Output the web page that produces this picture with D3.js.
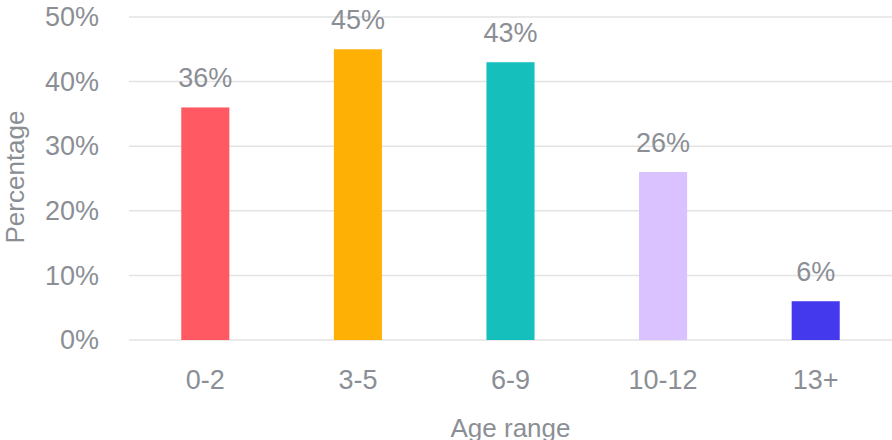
<!DOCTYPE html>
<html>
<head>
<meta charset="utf-8">
<script src="https://cdn.jsdelivr.net/npm/d3@7"></script>
<style>
  body { margin: 0; background: #fff; }
  text { font-family: "Liberation Sans", Arial, sans-serif; fill: #8b8f95; }
</style>
</head>
<body>
<div id="chart"></div>
<script>
var categories = ["0-2", "3-5", "6-9", "10-12", "13+"];
var values = [36, 45, 43, 26, 6];
var colors = ["#ff5a64", "#ffb005", "#15bfbb", "#d9c2ff", "#4539ee"];
var yTicks = [0, 10, 20, 30, 40, 50];

var width = 892, height = 440;
var margin = {top: 17, right: 0, bottom: 100, left: 129};
var fontSize = "27px";

var svg = d3.select("#chart").append("svg")
    .attr("width", width)
    .attr("height", height);

var x = d3.scaleBand()
    .domain(categories)
    .range([margin.left, width - margin.right])
    .paddingInner(0.685)
    .paddingOuter(0.3425);

var y = d3.scaleLinear()
    .domain([0, 50])
    .range([340, margin.top]);

// gridlines
svg.append("g")
    .selectAll("line")
    .data(yTicks)
    .enter().append("line")
    .attr("x1", margin.left)
    .attr("x2", width)
    .attr("y1", function(d) { return y(d); })
    .attr("y2", function(d) { return y(d); })
    .style("stroke", "#e3e3e3")
    .style("stroke-width", 1.5);

// y axis labels
var yAxis = svg.append("g")
    .attr("transform", "translate(" + margin.left + ",0)")
    .call(d3.axisLeft(y).tickValues(yTicks).tickSize(0).tickPadding(30)
        .tickFormat(function(d) { return d + "%"; }));
yAxis.select(".domain").remove();
yAxis.selectAll("text")
    .style("font-size", fontSize)
    .style("fill", "#8b8f95")
    .style("font-family", "Liberation Sans, Arial, sans-serif");

// x axis labels
var xAxis = svg.append("g")
    .attr("transform", "translate(0," + 340 + ")")
    .call(d3.axisBottom(x).tickSize(0).tickPadding(30));
xAxis.select(".domain").remove();
xAxis.selectAll("text")
    .style("font-size", fontSize)
    .style("fill", "#8b8f95")
    .style("font-family", "Liberation Sans, Arial, sans-serif");

// bars
svg.append("g")
    .selectAll("rect")
    .data(values)
    .enter().append("rect")
    .attr("x", function(d, i) { return x(categories[i]); })
    .attr("y", function(d) { return y(d); })
    .attr("width", x.bandwidth())
    .attr("height", function(d) { return y(0) - y(d); })
    .style("fill", function(d, i) { return colors[i]; });

// value labels
svg.append("g")
    .selectAll("text")
    .data(values)
    .enter().append("text")
    .attr("x", function(d, i) { return x(categories[i]) + x.bandwidth() / 2; })
    .attr("y", function(d) { return y(d) - 20; })
    .attr("text-anchor", "middle")
    .style("font-size", fontSize)
    .text(function(d) { return d + "%"; });

// axis titles
svg.append("text")
    .attr("x", (margin.left + width) / 2)
    .attr("y", 437)
    .attr("text-anchor", "middle")
    .style("font-size", "26px")
    .text("Age range");

svg.append("text")
    .attr("transform", "translate(24," + 177 + ") rotate(-90)")
    .attr("text-anchor", "middle")
    .style("font-size", "26px")
    .text("Percentage");
</script>
</body>
</html>
